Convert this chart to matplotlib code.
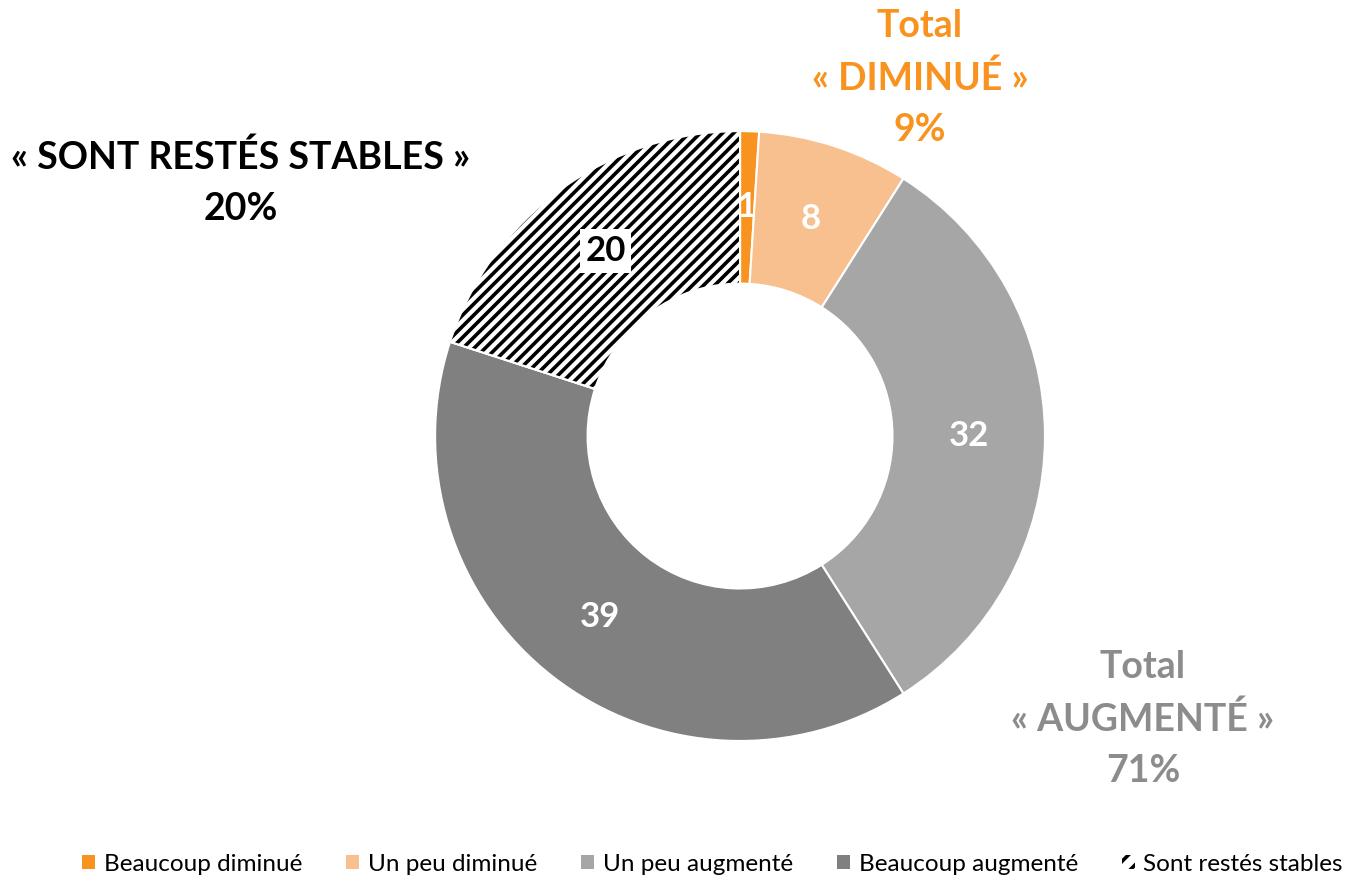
import matplotlib
matplotlib.use("Agg")
import matplotlib.pyplot as plt
from matplotlib.patches import Wedge, Patch

plt.rcParams['font.family'] = ['Lato', 'DejaVu Sans']
plt.rcParams['hatch.linewidth'] = 2.6

categories = ["Beaucoup diminué", "Un peu diminué", "Un peu augmenté",
              "Beaucoup augmenté", "Sont restés stables"]
values = [1, 8, 32, 39, 20]
colors = ["#F7931E", "#F9C08F", "#A6A6A6", "#808080", "#FFFFFF"]
label_colors = ["white", "white", "white", "white", "black"]

fig = plt.figure(figsize=(13.65, 8.8), dpi=100)
ax = fig.add_axes([0.3187, 0.158, 0.4469, 0.693])

wedges, texts = ax.pie(values, colors=colors, startangle=90, counterclock=False,
                       radius=1, labels=[str(v) for v in values], labeldistance=0.75,
                       wedgeprops=dict(width=0.5, edgecolor='white', linewidth=1.5))
ax.set_xlim(-1, 1)
ax.set_ylim(-1, 1)
ax.set_aspect('equal')
ax.axis('off')

# hatched overlay on the stable wedge
w = wedges[4]
hw = Wedge(w.center, w.r, w.theta1, w.theta2, width=w.width, facecolor='none',
           edgecolor='black', linewidth=0, hatch='///')
ax.add_patch(hw)
ax.add_patch(Wedge(w.center, w.r, w.theta1, w.theta2, width=w.width, facecolor='none',
                   edgecolor='white', linewidth=1.5))

for t, c in zip(texts, label_colors):
    t.set_color(c)
    t.set_fontsize(25)
    t.set_fontweight('bold')
    t.set_ha('center')
    t.set_va('center')
    t.set_zorder(5)
texts[4].set_bbox(dict(facecolor='white', edgecolor='none', pad=4))

fig.text(920/1365, 1 - 78/880, "Total\n« DIMINUÉ »\n9%", color="#F7931E",
         fontsize=27, fontweight='bold', ha='center', va='center', linespacing=1.6)
fig.text(241/1365, 1 - 183/880, "« SONT RESTÉS STABLES »\n20%", color="black",
         fontsize=27, fontweight='bold', ha='center', va='center', linespacing=1.6)
fig.text(1143/1365, 1 - 719/880, "Total\n« AUGMENTÉ »\n71%", color="#8C8C8C",
         fontsize=27, fontweight='bold', ha='center', va='center', linespacing=1.6)

handles = [Patch(facecolor=colors[i], edgecolor='none') for i in range(4)]
handles.append(Patch(facecolor='white', edgecolor='black', linewidth=0, hatch='//'))
fig.legend(handles, categories, loc='center', bbox_to_anchor=(0.522, 1 - 864/880),
           ncol=5, frameon=False, fontsize=17.5, handlelength=0.55, handleheight=0.55,
           handletextpad=0.35, columnspacing=1.8)

fig.savefig("out.png", dpi=100)
